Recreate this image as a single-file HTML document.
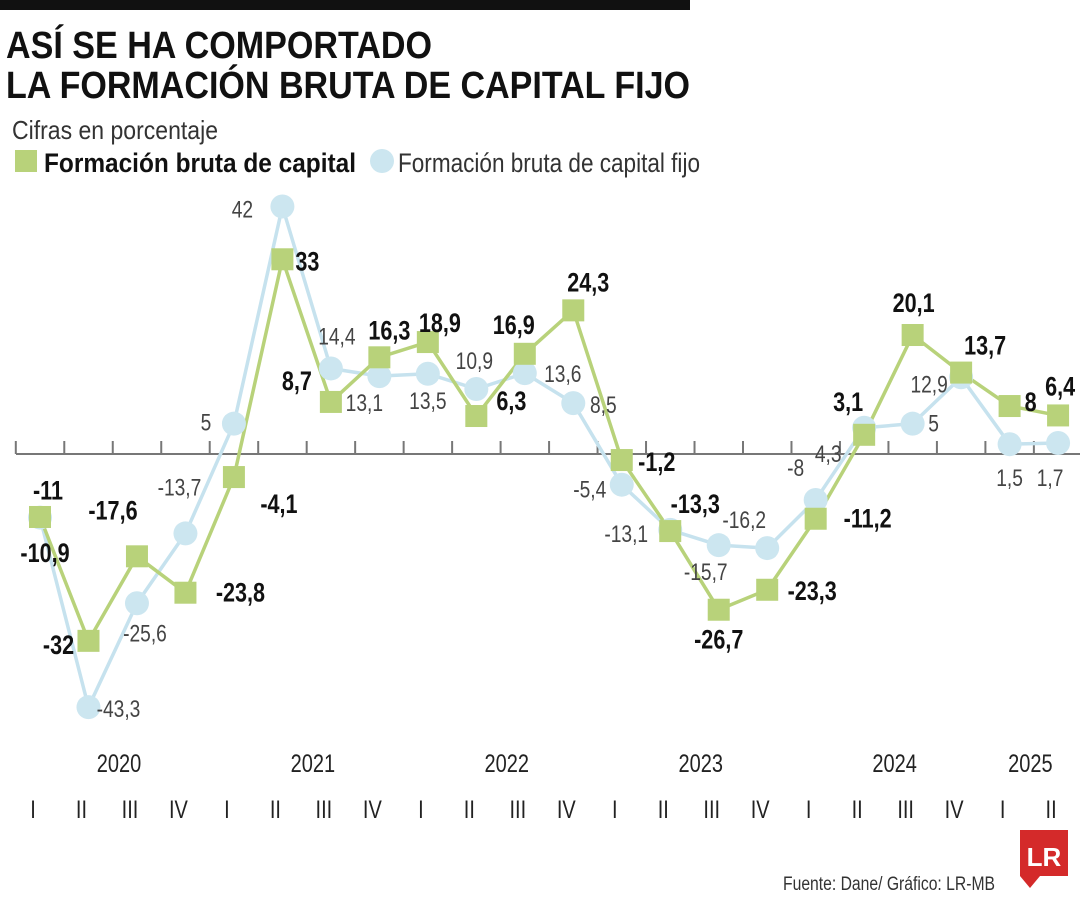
<!DOCTYPE html>
<html><head><meta charset="utf-8">
<style>
body{margin:0;background:#fff;}
#wrap{position:relative;width:1080px;height:900px;overflow:hidden;font-family:"Liberation Sans",sans-serif;}
svg text{font-family:"Liberation Sans",sans-serif;}
</style></head>
<body>
<div id="wrap">
<svg id="chart" width="1080" height="900">
<rect x="0" y="0" width="690" height="10" fill="#111"/>
<text x="6" y="58" font-size="38" font-weight="bold" fill="#111" textLength="426" lengthAdjust="spacingAndGlyphs">ASÍ SE HA COMPORTADO</text>
<text x="6" y="98" font-size="38" font-weight="bold" fill="#111" textLength="684" lengthAdjust="spacingAndGlyphs">LA FORMACIÓN BRUTA DE CAPITAL FIJO</text>
<text x="12" y="139" font-size="26" fill="#333" textLength="206" lengthAdjust="spacingAndGlyphs">Cifras en porcentaje</text>
<rect x="15" y="150" width="22" height="22" fill="#b8d27a"/>
<text x="44" y="172" font-size="27" font-weight="bold" fill="#111" textLength="312" lengthAdjust="spacingAndGlyphs">Formación bruta de capital</text>
<circle cx="382" cy="161" r="12" fill="#cce6f0"/>
<text x="398" y="172" font-size="27" fill="#333" textLength="302" lengthAdjust="spacingAndGlyphs">Formación bruta de capital fijo</text>
<g id="axis"></g>
<g id="series"></g>
<text x="783" y="890" font-size="19" fill="#333" textLength="212" lengthAdjust="spacingAndGlyphs">Fuente: Dane/ Gráfico: LR-MB</text>
<rect x="1020" y="830" width="48" height="46" fill="#d42a2a"/>
<polygon points="1020,876 1040,876 1030,888" fill="#d42a2a"/>
<text x="1044" y="866" font-size="26" font-weight="bold" fill="#fff" text-anchor="middle" font-family="Liberation Serif, serif">LR</text>
</svg>
</div>
<script>
const quarters=["I","II","III","IV","I","II","III","IV","I","II","III","IV","I","II","III","IV","I","II","III","IV","I","II"];
const years=["2020","2021","2022","2023","2024","2025"];
const yearCenters=[2,6,10,14,18,20.8];
const greenValues=[-10.9,-32,-17.6,-23.8,-4.1,33,8.7,16.3,18.9,6.3,16.9,24.3,-1.2,-13.3,-26.7,-23.3,-11.2,3.1,20.1,13.7,8,6.4];
const blueValues=[-11,-43.3,-25.6,-13.7,5,42,14.4,13.1,13.5,10.9,13.6,8.5,-5.4,-13.1,-15.7,-16.2,-8,4.3,5,12.9,1.5,1.7];
// label offsets (dx,dy) relative to each mark
const greenOff=[[5,36],[-30,4],[-24,-46],[55,0],[45,27],[25,2],[-34,-21],[10,-27],[12,-19],[35,-15],[-11,-29],[15,-28],[35,2],[25,-27],[0,30],[45,1],[52,0],[-16,-33],[1,-32],[24,-27],[21,-4],[2,-29]];
const blueOff=[[8,-26],[30,2],[8,30],[-6,-46],[-28,-1],[-40,3],[6,-32],[-15,27],[0,27],[-2,-28],[38,1],[30,2],[-32,5],[-44,4],[-13,27],[-23,-28],[-20,-32],[-36,26],[21,0],[-32,7],[0,34],[-8,35]];
const NS='http://www.w3.org/2000/svg';
const x=i=>40+i*48.48;
const y=v=>453-v*5.87;
const fmt=v=>String(v).replace('.',',');
function mk(t,a,p){const e=document.createElementNS(NS,t);for(const k in a)e.setAttribute(k,a[k]);p.appendChild(e);return e;}
const ax=document.getElementById('axis'),se=document.getElementById('series');
const al=mk('line',{x1:16,x2:1080,y1:454,y2:454,stroke:'#777','stroke-width':2},ax);


for(let i=0;i<=22;i++){const t=mk('line',{x1:x(i)-24.2,x2:x(i)-24.2,y1:441,y2:454,stroke:'#777','stroke-width':2},ax);

}
function ctext(px,py,size,str,attrs,parent){const t=mk('text',Object.assign({transform:'translate('+px+','+py+') scale(0.8,1)','font-size':size,'text-anchor':'middle'},attrs),parent);t.textContent=str;return t;}
quarters.forEach((q,i)=>{const t=ctext(x(i)-7,818,25,q,{fill:'#222'},ax);

});
years.forEach((yr,k)=>{const t=ctext(x(yearCenters[k])-18,772,25,yr,{fill:'#222'},ax);

});
function line(vals,col,name){const pl=mk('polyline',{points:vals.map((v,i)=>x(i)+','+y(v)).join(' '),fill:'none',stroke:col,'stroke-width':3.5,'stroke-linejoin':'round'},se);

}
line(blueValues,'#c6e2ee','line-fbkf');
line(greenValues,'#b8d27a','line-fbk');
blueValues.forEach((v,i)=>{const c=mk('circle',{cx:x(i),cy:y(v),r:12,fill:'#cce6f0'},se);

});
greenValues.forEach((v,i)=>{const r=mk('rect',{x:x(i)-11,y:y(v)-11,width:22,height:22,fill:'#b8d27a'},se);

});
blueValues.forEach((v,i)=>{const a=i===0?{fill:'#111','font-weight':'bold'}:{fill:'#444'};const t=ctext(x(i)+blueOff[i][0],y(v)+blueOff[i][1]+8,i===0?27:24,fmt(v),a,se);

});
greenValues.forEach((v,i)=>{const t=ctext(x(i)+greenOff[i][0],y(v)+greenOff[i][1]+9,27,fmt(v),{'font-weight':'bold',fill:'#111'},se);

});
</script>
</body></html>
